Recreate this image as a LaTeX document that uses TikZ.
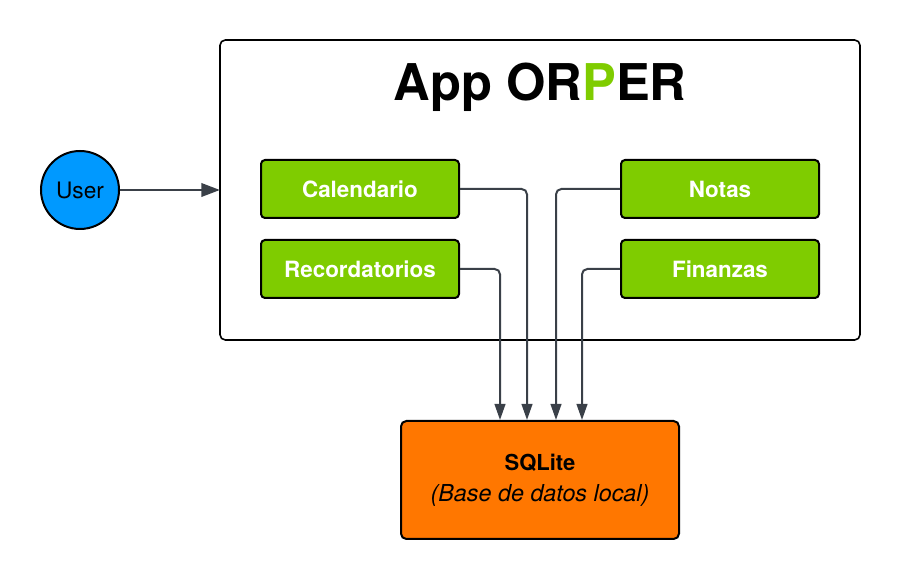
\documentclass[tikz,border=0pt]{standalone}
\usepackage{fontspec}
\setmainfont{TeX Gyre Heros}
\usetikzlibrary{arrows.meta,positioning,calc}
\definecolor{orpgreen}{RGB}{127,204,0}
\definecolor{userblue}{RGB}{0,153,255}
\definecolor{dbfill}{RGB}{255,119,0}
\definecolor{wire}{RGB}{58,64,72}
\tikzset{>=Stealth}

\begin{document}
\begin{tikzpicture}[x=0.75pt, y=-0.75pt,
    module/.style={draw=black, line width=1.5pt, rounded corners=3pt, fill=orpgreen,
      minimum width=148.5pt, minimum height=43.5pt, text=white,
      font=\fontsize{16.8}{19}\selectfont\bfseries},
    link/.style={->, draw=wire, line width=1.5pt, rounded corners=4pt,
      >={Triangle[length=12pt, width=8pt]}},
    arr/.style={->, draw=wire, line width=2pt, >={Triangle[length=14pt, width=10pt]}}
  ]
    \useasboundingbox (0,0) rectangle (900,580);

    % app container
    \draw[line width=1.2pt, rounded corners=4pt] (220,40) rectangle (860,340);
    \node[font=\fontsize{38}{40}\selectfont\bfseries] (title) at (540,87)
      {App OR{\color{orpgreen}P}ER};

    \node[circle, draw=black, line width=1.5pt, fill=userblue, minimum size=58.5pt,
      inner sep=0pt, font=\fontsize{17}{19}\selectfont] (user) at (80,190) {User};
    \coordinate (appin) at (220,190);

    \node[module] (cal) at (360,189) {Calendario};
    \node[module] (rec) at (360,269) {Recordatorios};
    \node[module] (notas) at (720,189) {Notas};
    \node[module] (fin) at (720,269) {Finanzas};

    \node[draw=black, line width=1.5pt, rounded corners=4pt, fill=dbfill,
      minimum width=208.5pt, minimum height=88.5pt, align=center,
      font=\fontsize{16.5}{19}\selectfont] (sqlite) at (540,480)
      {\textbf{SQLite}\\[4pt]\fontsize{17.5}{20}\selectfont\itshape(Base de datos local)};

    \draw[arr] (user) -- (appin);
    \draw[link] (rec.east) -| ($(sqlite.north)+(-40,0)$);
    \draw[link] (cal.east) -| ($(sqlite.north)+(-13,0)$);
    \draw[link] (notas.west) -| ($(sqlite.north)+(16,0)$);
    \draw[link] (fin.west) -| ($(sqlite.north)+(42,0)$);
\end{tikzpicture}
\end{document}
